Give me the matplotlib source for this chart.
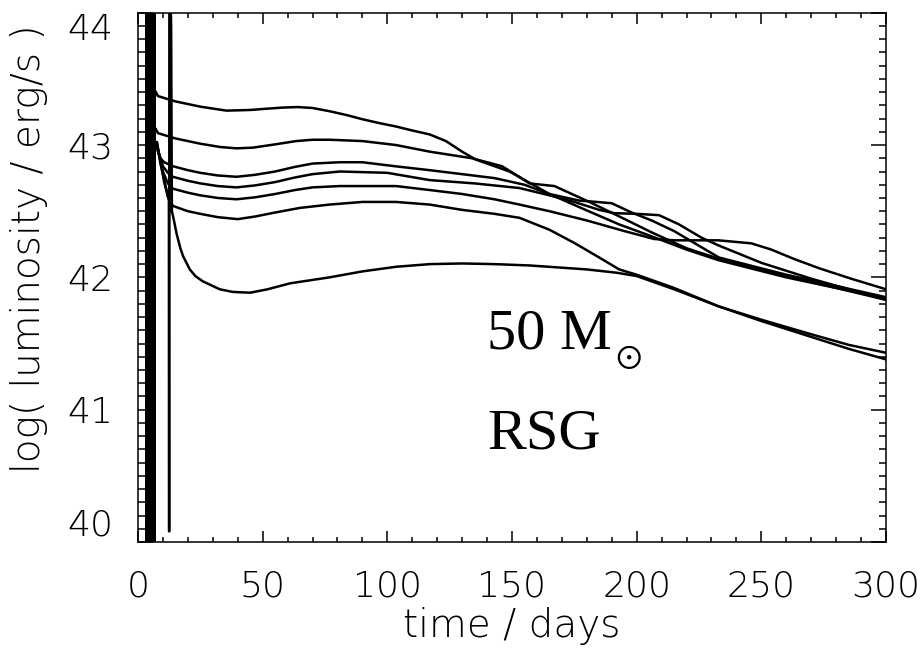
import matplotlib
matplotlib.use("Agg")
import matplotlib.pyplot as plt
from matplotlib.ticker import MultipleLocator

# light curves: time (days), log L (erg/s)
t_a = [7.2, 8, 15, 25, 35.5, 45, 52, 58, 64, 70, 77, 84, 90, 97, 103.5, 110, 117, 123.5, 130,
       135.5, 140, 149, 152.8, 165, 179.5, 193, 206, 220, 232.8, 260, 280, 300]
l_a = [43.40, 43.37, 43.33, 43.29, 43.26, 43.265, 43.275, 43.283, 43.287, 43.28, 43.255, 43.225,
       43.195, 43.165, 43.14, 43.11, 43.08, 43.03, 42.95, 42.89, 42.86, 42.80, 42.76, 42.63, 42.51,
       42.40, 42.31, 42.21, 42.13, 42.00, 41.92, 41.84]

t_b = [7.2, 8, 15, 25, 33, 39.5, 46, 55, 63.5, 70, 76.8, 90, 103.5, 117, 134, 146, 152, 157, 162,
       167, 174, 181, 192, 206, 220, 233, 260, 300]
l_b = [43.12, 43.09, 43.05, 43.01, 42.985, 42.975, 42.98, 43.005, 43.03, 43.04, 43.04, 43.03,
       43.00, 42.95, 42.90, 42.84, 42.77, 42.71, 42.70, 42.69, 42.63, 42.57, 42.47, 42.34, 42.22,
       42.14, 42.01, 41.83]

t_c = [7.2, 8, 9, 10.5, 14, 20, 25, 32, 39.5, 47, 55, 63, 70, 81, 90, 103, 117, 130, 143, 155,
       165, 177, 184, 190, 198, 206, 215, 233, 260, 300]
l_c = [43.02, 42.95, 42.90, 42.87, 42.84, 42.81, 42.79, 42.77, 42.76, 42.775, 42.80, 42.835,
       42.86, 42.87, 42.87, 42.84, 42.81, 42.78, 42.75, 42.70, 42.63, 42.58, 42.57, 42.56, 42.49,
       42.43, 42.35, 42.15, 42.02, 41.85]

t_d = [7.2, 8.5, 10, 12, 14, 20, 25, 32, 39.5, 47, 55, 63, 70, 81, 100, 117, 135, 153, 165, 175,
       185, 191, 200, 209, 217, 226, 233, 250, 270, 300]
l_d = [43.02, 42.93, 42.84, 42.79, 42.76, 42.73, 42.71, 42.69, 42.68, 42.695, 42.72, 42.755,
       42.78, 42.80, 42.79, 42.735, 42.71, 42.675, 42.62, 42.57, 42.51, 42.485, 42.48, 42.47,
       42.40, 42.30, 42.24, 42.11, 41.99, 41.83]

t_e = [7.4, 8.5, 10, 12, 14, 20, 25, 32, 39.5, 47, 55, 63, 70, 81, 103.5, 117, 130, 143, 153,
       165, 180, 195, 207, 215, 232.8, 246, 254, 263, 273, 286, 300]
l_e = [43.02, 42.92, 42.80, 42.71, 42.67, 42.64, 42.62, 42.60, 42.59, 42.605, 42.63, 42.66,
       42.68, 42.69, 42.69, 42.66, 42.63, 42.59, 42.55, 42.50, 42.43, 42.35, 42.29, 42.28, 42.28,
       42.257, 42.21, 42.14, 42.07, 41.99, 41.91]

t_f = [7.6, 9, 10.5, 12, 14, 20, 25, 32, 40, 47, 55, 65, 76.8, 90, 103.5, 117, 130, 143, 153,
       165, 175, 185, 193, 200, 215, 233, 250, 270, 285, 300]
l_f = [43.02, 42.88, 42.72, 42.61, 42.54, 42.50, 42.48, 42.455, 42.44, 42.46, 42.49, 42.525,
       42.55, 42.57, 42.57, 42.55, 42.51, 42.48, 42.45, 42.36, 42.26, 42.15, 42.06, 42.02, 41.92,
       41.78, 41.68, 41.57, 41.49, 41.43]

t_g = [7.6, 9, 10.5, 12.4, 12.5, 12.6, 13.3, 13.6, 14.1, 15.5, 17, 18.1, 20.8, 23, 26, 32.8, 38,
       45, 52, 61, 76.8, 90, 103.5, 117, 130, 143, 157, 180, 192, 200, 215, 233, 250, 270, 285,
       300]
l_g = [43.02, 42.86, 42.74, 42.58, 40.08, 44.6, 43.9, 42.50, 42.46, 42.33, 42.22, 42.16, 42.06,
       42.01, 41.97, 41.91, 41.89, 41.884, 41.91, 41.955, 42.0, 42.045, 42.08, 42.10, 42.105,
       42.10, 42.09, 42.06, 42.035, 42.01, 41.91, 41.78, 41.67, 41.55, 41.46, 41.38]

curves = [(t_a, l_a), (t_b, l_b), (t_c, l_c), (t_d, l_d), (t_e, l_e), (t_f, l_f), (t_g, l_g)]

# shock breakout spikes, saturated into a black band
burst_start = 2.7
burst_end = 7.2

y_ticks = [40, 41, 42, 43, 44]

fig = plt.figure(figsize=(9.21, 6.52), dpi=100)
ax = fig.add_axes([0.1498, 0.1687, 0.8122, 0.8118])

ax.axvspan(burst_start, burst_end, color="black", lw=0)
for t, l in curves:
    ax.plot(t, l, color="black", lw=1.8, solid_joinstyle="round")

ax.set_xlim(0, 300)
ax.set_ylim(40, 44)
ax.xaxis.set_major_locator(MultipleLocator(50))
ax.xaxis.set_minor_locator(MultipleLocator(10))
ax.set_yticks(y_ticks)
ax.yaxis.set_minor_locator(MultipleLocator(0.1))

ax.tick_params(which="both", direction="in", top=True, right=True, width=1.1, colors="black")
ax.tick_params(axis="x", which="major", length=8, pad=20, labelsize=26)
ax.tick_params(axis="x", which="minor", length=3.8)
ax.tick_params(axis="y", which="major", length=11, pad=18, labelsize=26)
ax.tick_params(axis="y", which="minor", length=5)
for s in ax.spines.values():
    s.set_linewidth(1.1)

for lab in ax.get_xticklabels() + ax.get_yticklabels():
    lab.set_fontweight("light")
ylabs = ax.get_yticklabels()
ylabs[0].set_va("bottom")
ylabs[-1].set_va("top")

ax.set_xlabel("time / days", fontsize=28, fontweight="light")
ax.set_ylabel("log( luminosity / erg/s )", fontsize=28, fontweight="light")
ax.xaxis.set_label_coords(0.5, -0.122)
ax.yaxis.set_label_coords(-0.12, 0.555)

ax.text(140, 41.466, "50 M", family="Liberation Serif", fontsize=42, va="baseline")
ax.text(196.8, 41.405, r"$\odot$", fontsize=25, ha="center", va="center",
        math_fontfamily="stix")
ax.text(140, 40.71, "RSG", family="Liberation Serif", fontsize=42, va="baseline")

fig.savefig("out.png", dpi=100)
